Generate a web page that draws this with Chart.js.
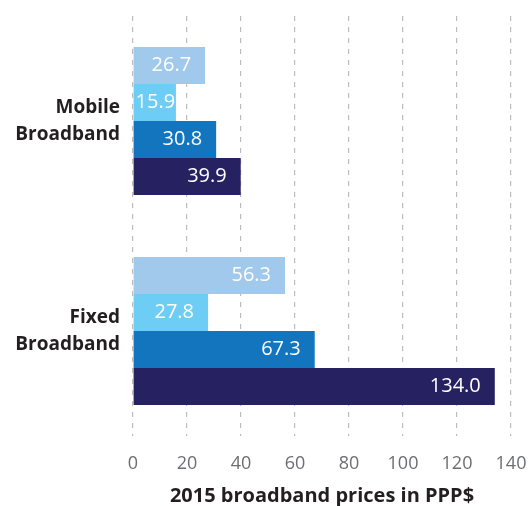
<!DOCTYPE html>
<html>
<head>
<meta charset="utf-8">
<script src="https://cdn.jsdelivr.net/npm/chart.js@4"></script>
<style>
  body { margin: 0; background: #fff; }
  #wrap { width: 529px; height: 506px; }
</style>
</head>
<body>
<div id="wrap"><canvas id="broadband"></canvas></div>
<script>
const categories = [["Mobile", "Broadband"], ["Fixed", "Broadband"]];
const seriesA = [26.7, 56.3];
const seriesB = [15.9, 27.8];
const seriesC = [30.8, 67.3];
const seriesD = [39.9, 134.0];
const xTicks = [0, 20, 40, 60, 80, 100, 120, 140];

const fontFamily = "'Open Sans', 'Noto Sans', sans-serif";

// white value labels at the right end of each bar
const valueLabels = {
    id: "valueLabels",
    afterDatasetsDraw(chart) {
        const ctx = chart.ctx;
        ctx.save();
        ctx.font = "20px " + fontFamily;
        ctx.fillStyle = "#ffffff";
        ctx.textBaseline = "middle";
        ctx.textAlign = "left";
        chart.data.datasets.forEach((ds, i) => {
            chart.getDatasetMeta(i).data.forEach((bar, j) => {
                const text = ds.data[j].toFixed(1);
                const w = ctx.measureText(text).width;
                let x = bar.x - 14 - w;
                if (x < bar.base + 2) x = bar.base + 2;
                ctx.fillText(text, x, bar.y);
            });
        });
        ctx.restore();
    }
};

new Chart(
    document.getElementById("broadband"),
    {
        type: "bar",
        data: {
            labels: categories,
            datasets: [
                { data: seriesA, backgroundColor: "#a0c9ec" },
                { data: seriesB, backgroundColor: "#6dcdf4" },
                { data: seriesC, backgroundColor: "#1275bd" },
                { data: seriesD, backgroundColor: "#262262" }
            ]
        },
        options: {
            indexAxis: "y",
            responsive: true,
            maintainAspectRatio: false,
            animation: false,
            layout: {
                padding: { top: 16, right: 0, left: 0, bottom: 0 }
            },
            datasets: {
                bar: {
                    categoryPercentage: 0.705,
                    barPercentage: 1.0
                }
            },
            plugins: {
                legend: { display: false },
                tooltip: { enabled: false }
            },
            scales: {
                x: {
                    min: 0,
                    max: 140,
                    afterBuildTicks(axis) {
                        axis.ticks = xTicks.map(v => ({ value: v }));
                    },
                    afterFit(axis) {
                        axis.height = 70;
                        axis.paddingLeft = 0;
                        axis.paddingRight = 18;
                    },
                    grid: {
                        color: "#bcbdc0",
                        lineWidth: 1.2,
                        drawTicks: false
                    },
                    border: {
                        display: false,
                        dash: [5, 6]
                    },
                    ticks: {
                        padding: 17,
                        color: "#6d6e71",
                        font: { family: fontFamily, size: 18 }
                    },
                    title: {
                        display: true,
                        text: "2015 broadband prices in PPP$",
                        color: "#231f20",
                        padding: { top: 0, bottom: -2 },
                        font: { family: fontFamily, size: 20, weight: "bold" }
                    }
                },
                y: {
                    afterFit(axis) {
                        axis.width = 133;
                        axis.paddingTop = 0;
                        axis.paddingBottom = 0;
                    },
                    grid: { display: false, drawTicks: false },
                    border: { display: false },
                    ticks: {
                        padding: 13,
                        color: "#231f20",
                        font: { family: fontFamily, size: 19, weight: "bold", lineHeight: 1.42 }
                    }
                }
            }
        },
        plugins: [valueLabels]
    }
);
</script>
</body>
</html>
